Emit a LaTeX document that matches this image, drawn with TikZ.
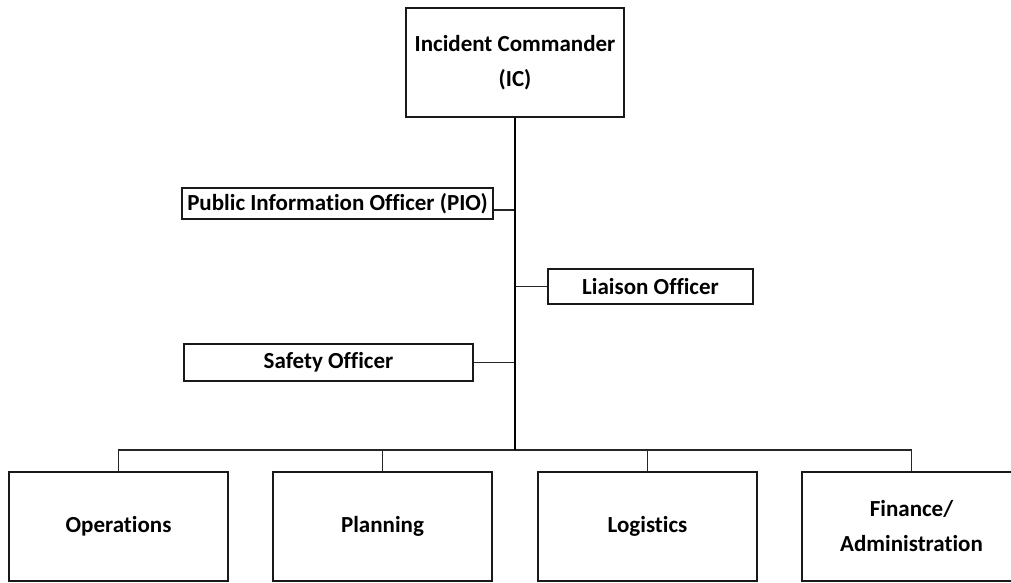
\documentclass[tikz,border=0pt]{standalone}
\usepackage{fontspec}
\setmainfont[Ligatures=NoCommon]{Carlito}
\begin{document}
\begin{tikzpicture}[x=1pt,y=-1pt,
  box/.style={draw=black!90,line width=1.5pt,rectangle,inner sep=0pt,align=center,
    font=\bfseries\fontsize{23}{35}\selectfont},
  link/.style={draw=black!85,line width=1.5pt},
  trunk/.style={draw=black,line width=2.3pt}]
\useasboundingbox (0,0) rectangle (1011,582);
\fill[white] (0,0) rectangle (1011,582);
\node[box,minimum width=218pt,minimum height=109pt] (ic) at (515,62.5) {Incident Commander\\(IC)};
\node[box,minimum width=311pt,minimum height=31pt] (pio) at (337.5,203.5) {Public Information Officer (PIO)};
\node[box,minimum width=205pt,minimum height=35pt] (lia) at (650.5,286.5) {Liaison Officer};
\node[box,minimum width=289pt,minimum height=37pt] (saf) at (328.5,362.5) {Safety Officer};
\node[box,minimum width=219pt,minimum height=109pt] (ops) at (118.5,526.5) {Operations};
\node[box,minimum width=219pt,minimum height=109pt] (pla) at (382.5,526.5) {Planning};
\node[box,minimum width=219pt,minimum height=109pt] (log) at (647.5,526.5) {Logistics};
\node[box,minimum width=219pt,minimum height=109pt] (fin) at (911.5,526.5) {Finance/\\Administration};
\coordinate (pioJ) at (515,210);
\coordinate (liaJ) at (515,286.5);
\coordinate (safJ) at (515,362.5);
\coordinate (bus) at (515,450);
\draw[link] (pio.east |- pioJ) -- (pioJ);
\draw[link] (lia.west) -- (liaJ);
\draw[link] (saf.east) -- (safJ);
\draw[link] (ops.north) |- (bus) -| (fin.north);
\draw[link] (pla.north) -- (pla.north |- bus);
\draw[link] (log.north) -- (log.north |- bus);
\draw[trunk] (ic.south) -- (bus);
\end{tikzpicture}
\end{document}
